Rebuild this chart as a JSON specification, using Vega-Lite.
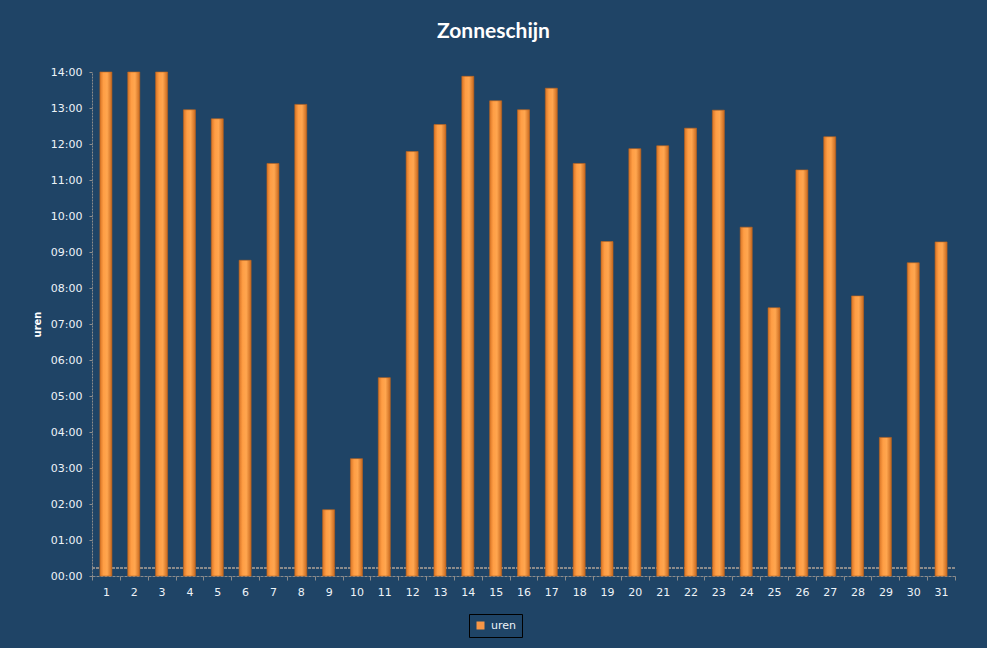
{
  "$schema": "https://vega.github.io/schema/vega-lite/v6.json",
  "autosize": {"type": "none"},
  "width": 863,
  "height": 504,
  "padding": {"left": 92, "top": 72, "right": 32, "bottom": 72},
  "background": "#1f4466",
  "title": {
    "text": "Zonneschijn",
    "font": "Lato",
    "fontSize": 21,
    "fontWeight": "bold",
    "color": "white",
    "anchor": "middle",
    "dx": -30,
    "offset": 24
  },
  "data": {
    "values": [
      {"dag": 1, "uren": 14.0, "reeks": "uren"},
      {"dag": 2, "uren": 14.0, "reeks": "uren"},
      {"dag": 3, "uren": 14.0, "reeks": "uren"},
      {"dag": 4, "uren": 12.95, "reeks": "uren"},
      {"dag": 5, "uren": 12.7, "reeks": "uren"},
      {"dag": 6, "uren": 8.77, "reeks": "uren"},
      {"dag": 7, "uren": 11.46, "reeks": "uren"},
      {"dag": 8, "uren": 13.1, "reeks": "uren"},
      {"dag": 9, "uren": 1.84, "reeks": "uren"},
      {"dag": 10, "uren": 3.26, "reeks": "uren"},
      {"dag": 11, "uren": 5.51, "reeks": "uren"},
      {"dag": 12, "uren": 11.79, "reeks": "uren"},
      {"dag": 13, "uren": 12.54, "reeks": "uren"},
      {"dag": 14, "uren": 13.88, "reeks": "uren"},
      {"dag": 15, "uren": 13.2, "reeks": "uren"},
      {"dag": 16, "uren": 12.95, "reeks": "uren"},
      {"dag": 17, "uren": 13.55, "reeks": "uren"},
      {"dag": 18, "uren": 11.46, "reeks": "uren"},
      {"dag": 19, "uren": 9.29, "reeks": "uren"},
      {"dag": 20, "uren": 11.87, "reeks": "uren"},
      {"dag": 21, "uren": 11.95, "reeks": "uren"},
      {"dag": 22, "uren": 12.44, "reeks": "uren"},
      {"dag": 23, "uren": 12.94, "reeks": "uren"},
      {"dag": 24, "uren": 9.69, "reeks": "uren"},
      {"dag": 25, "uren": 7.45, "reeks": "uren"},
      {"dag": 26, "uren": 11.28, "reeks": "uren"},
      {"dag": 27, "uren": 12.2, "reeks": "uren"},
      {"dag": 28, "uren": 7.78, "reeks": "uren"},
      {"dag": 29, "uren": 3.85, "reeks": "uren"},
      {"dag": 30, "uren": 8.7, "reeks": "uren"},
      {"dag": 31, "uren": 9.28, "reeks": "uren"}
    ]
  },
  "encoding": {
    "x": {
      "field": "dag",
      "type": "ordinal",
      "scale": {"paddingInner": 0, "paddingOuter": 0},
      "axis": {
        "title": null,
        "labelAngle": 0,
        "tickBand": "extent",
        "tickSize": 4,
        "tickColor": "#8c8c8c",
        "domainColor": "#8c8c8c",
        "domainDash": [3, 1],
        "labelColor": "#eef3f8",
        "labelFont": "DejaVu Sans",
        "labelFontSize": 11,
        "labelPadding": 6
      }
    },
    "y": {
      "field": "uren",
      "type": "quantitative",
      "scale": {"domain": [0, 14], "nice": false},
      "axis": {
        "values": [0, 1, 2, 3, 4, 5, 6, 7, 8, 9, 10, 11, 12, 13, 14],
        "labelExpr": "(datum.value < 10 ? '0' : '') + datum.value + ':00'",
        "grid": false,
        "tickSize": 3,
        "tickColor": "#8c8c8c",
        "domainColor": "#8c8c8c",
        "domainDash": [2, 1],
        "labelColor": "#eef3f8",
        "labelFont": "DejaVu Sans",
        "labelFontSize": 11,
        "labelPadding": 7,
        "title": "uren",
        "titleColor": "white",
        "titleFont": "DejaVu Sans",
        "titleFontSize": 10,
        "titleFontWeight": "bold",
        "titlePadding": 8
      }
    }
  },
  "layer": [
    {
      "mark": {"type": "rule", "color": "#8c8c8c", "strokeDash": [3, 1], "strokeWidth": 1},
      "encoding": {
        "y": {"datum": 0.22},
        "x": null
      }
    },
    {
      "mark": {
        "type": "bar",
        "size": 12,
        "stroke": "#c0651c",
        "strokeWidth": 0.6,
        "color": {
          "gradient": "linear",
          "x1": 0, "y1": 0, "x2": 1, "y2": 0,
          "stops": [
            {"offset": 0, "color": "#d97526"},
            {"offset": 0.3, "color": "#ff9e45"},
            {"offset": 0.6, "color": "#ffa64f"},
            {"offset": 1, "color": "#c8691f"}
          ]
        }
      }
    },
    {
      "mark": {"type": "bar", "size": 12, "opacity": 0},
      "encoding": {
        "color": {
          "field": "reeks",
          "type": "nominal",
          "scale": {"range": ["#f79646"]},
          "legend": {
            "title": null,
            "orient": "none",
            "legendX": 377,
            "legendY": 542,
            "direction": "vertical",
            "strokeColor": "#000000",
            "padding": 6,
            "symbolType": "square",
            "symbolSize": 64,
            "symbolOpacity": 1,
            "symbolStrokeWidth": 0,
            "labelColor": "#eef3f8",
            "labelFont": "DejaVu Sans",
            "labelFontSize": 11,
            "labelOffset": 5
          }
        }
      }
    }
  ],
  "config": {"view": {"stroke": null}}
}
